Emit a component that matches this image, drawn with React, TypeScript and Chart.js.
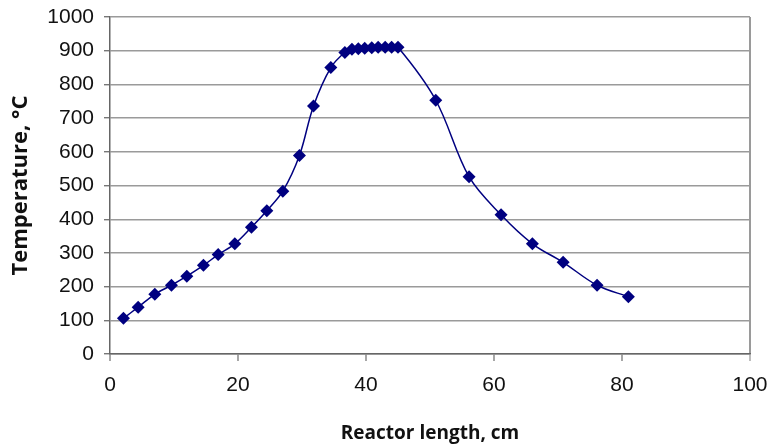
import React, { useEffect, useRef } from "react";
import { Chart, registerables } from "chart.js";

Chart.register(...registerables);

const reactorLength = [
  2.1, 4.4, 7.0, 9.6, 12.0, 14.6, 16.9, 19.5, 22.1, 24.5, 27.0, 29.6, 31.8, 34.5,
  36.7, 37.8, 38.8, 39.8, 40.9, 41.9, 43.0, 44.0, 45.0,
  50.9, 56.1, 61.1, 66.0, 70.8, 76.1, 81.0,
];
const temperature = [
  106, 139, 177, 204, 231, 263, 295, 327, 376, 425, 483, 589, 736, 850,
  895, 904, 906, 907, 909, 910, 910, 910, 910,
  753, 526, 413, 327, 272, 204, 170,
];
const xTicks = [0, 20, 40, 60, 80, 100];
const yTicks = [0, 100, 200, 300, 400, 500, 600, 700, 800, 900, 1000];
const xTitle = "Reactor length, cm";
const yTitle = "Temperature, \u00B0C";

export default function App() {
  const ref = useRef<HTMLCanvasElement | null>(null);

  useEffect(() => {
    if (!ref.current) return;
    const chart = new Chart(ref.current, {
      type: "line",
      data: {
        datasets: [
          {
            data: reactorLength.map((x, i) => ({ x, y: temperature[i] })),
            borderColor: "#000080",
            backgroundColor: "#000080",
            borderWidth: 1.5,
            pointStyle: "rectRot",
            pointRadius: 6.5,
            pointBorderWidth: 0,
            tension: 0.35,
            fill: false,
          },
        ],
      },
      options: {
        animation: false,
        responsive: true,
        maintainAspectRatio: false,
        layout: { padding: { top: 17, right: 19, bottom: 0, left: 0 } },
        plugins: { legend: { display: false }, tooltip: { enabled: false } },
        scales: {
          x: {
            type: "linear",
            min: 0,
            max: 100,
            afterBuildTicks: (s: any) => {
              s.ticks = xTicks.map((v) => ({ value: v }));
            },
            afterFit: (s: any) => {
              s.height = 91;
              s.paddingLeft = 0;
              s.paddingRight = 0;
            },
            grid: {
              drawOnChartArea: true,
              color: (c: any) => (c.tick && c.tick.value === 100 ? "#9a9a9a" : "rgba(0,0,0,0)"),
              lineWidth: 2,
              tickColor: (c: any) => (c.tick && c.tick.value === 100 ? "#9a9a9a" : "#777"),
              tickLength: 7,
              tickWidth: 1.3,
            },
            border: { color: "#666", width: 1.5 },
            ticks: {
              color: "#111",
              padding: 12,
              maxRotation: 0,
              callback: (v: any) => String(v),
              font: { family: "'Liberation Sans', Arial, sans-serif", size: 21 },
            },
            title: {
              display: true,
              text: xTitle,
              color: "#111",
              padding: { top: 3, bottom: 0 },
              font: { family: "'Open Sans', sans-serif", size: 19, weight: "bold" },
            },
          },
          y: {
            type: "linear",
            min: 0,
            max: 1000,
            afterBuildTicks: (s: any) => {
              s.ticks = yTicks.map((v) => ({ value: v }));
            },
            afterFit: (s: any) => {
              s.width = 110;
              s.paddingTop = 0;
              s.paddingBottom = 0;
            },
            grid: {
              color: "#9a9a9a",
              lineWidth: 1.4,
              tickColor: "#777",
              tickLength: 6,
            },
            border: { color: "#666", width: 1.5 },
            ticks: {
              color: "#111",
              padding: 10,
              callback: (v: any) => String(v),
              font: { family: "'Liberation Sans', Arial, sans-serif", size: 21 },
            },
            title: {
              display: true,
              text: yTitle,
              color: "#111",
              padding: { top: 8, bottom: 0 },
              font: { family: "'Open Sans', sans-serif", size: 22, weight: "bold" },
            },
          },
        },
      },
    });
    return () => chart.destroy();
  }, []);

  return (
    <div style={{ position: "fixed", left: 0, top: 0, width: 769, height: 445, background: "#fff" }}>
      <canvas ref={ref} />
    </div>
  );
}
